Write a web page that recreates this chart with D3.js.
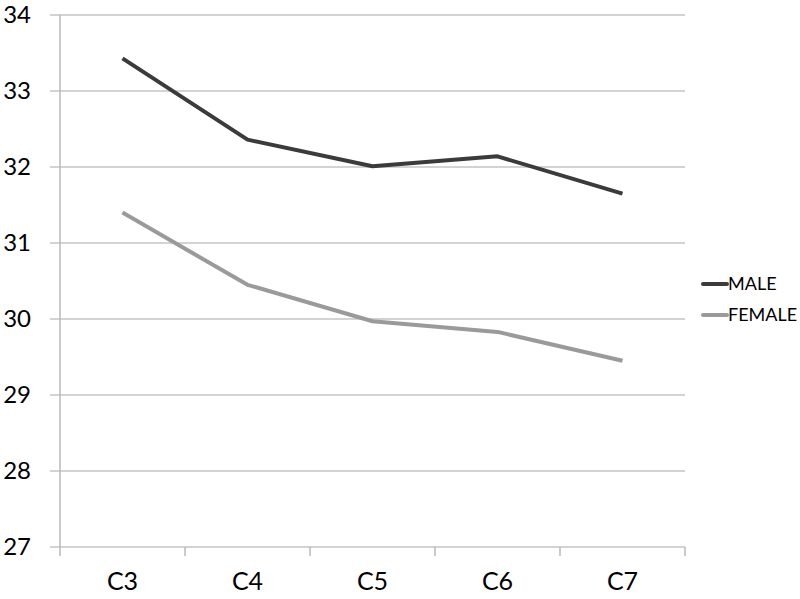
<!DOCTYPE html>
<html>
<head>
<meta charset="utf-8">
<script src="https://cdn.jsdelivr.net/npm/d3@7"></script>
<style>
  body { margin: 0; background: #fff; }
  svg { display: block; font-family: Lato, "Open Sans", sans-serif; }
</style>
</head>
<body>
<svg id="chart" width="800" height="599"></svg>
<script>
const categories = ["C3", "C4", "C5", "C6", "C7"];
const male = [33.43, 32.36, 32.01, 32.14, 31.65];
const female = [31.40, 30.45, 29.97, 29.83, 29.45];
const yTicks = [27, 28, 29, 30, 31, 32, 33, 34];

const series = [
  { name: "MALE", values: male, color: "#3b3b3b" },
  { name: "FEMALE", values: female, color: "#9a9a9a" }
];

const svg = d3.select("#chart");
const plotLeft = 60, plotRight = 685, plotTop = 15, plotBottom = 547;

const x = d3.scaleBand().domain(categories).range([plotLeft, plotRight]);
const y = d3.scaleLinear().domain([27, 34]).range([plotBottom, plotTop]);

// gridlines
svg.append("g")
  .selectAll("line")
  .data(yTicks)
  .join("line")
  .attr("x1", plotLeft - 10)
  .attr("x2", plotRight)
  .attr("y1", d => y(d))
  .attr("y2", d => y(d))
  .attr("stroke", "#c4c4c4")
  .attr("stroke-width", 1.5);

// y labels
svg.append("g")
  .selectAll("text")
  .data(yTicks)
  .join("text")
  .attr("x", 31)
  .attr("y", d => y(d))
  .attr("dy", "0.35em")
  .attr("text-anchor", "end")
  .attr("font-size", 24)
  .attr("fill", "#000")
  .text(d => d);

// y axis line
svg.append("line")
  .attr("x1", plotLeft).attr("x2", plotLeft)
  .attr("y1", plotTop).attr("y2", plotBottom + 9)
  .attr("stroke", "#b8b8b8")
  .attr("stroke-width", 1.5);

// x ticks between categories
const tickXs = categories.map(c => x(c) + x.bandwidth());
svg.append("g")
  .selectAll("line")
  .data(tickXs)
  .join("line")
  .attr("x1", d => d).attr("x2", d => d)
  .attr("y1", plotBottom).attr("y2", plotBottom + 9)
  .attr("stroke", "#b8b8b8")
  .attr("stroke-width", 1.5);

// x labels
svg.append("g")
  .selectAll("text")
  .data(categories)
  .join("text")
  .attr("x", d => x(d) + x.bandwidth() / 2)
  .attr("y", 581)
  .attr("dy", "0.35em")
  .attr("text-anchor", "middle")
  .attr("font-size", 25)
  .attr("fill", "#000")
  .text(d => d);

const line = d3.line()
  .x((d, i) => x(categories[i]) + x.bandwidth() / 2)
  .y(d => y(d));

svg.append("g")
  .selectAll("path")
  .data(series)
  .join("path")
  .attr("d", d => line(d.values))
  .attr("fill", "none")
  .attr("stroke", d => d.color)
  .attr("stroke-width", 4)
  .attr("stroke-linejoin", "round");

// legend
const legend = svg.append("g")
  .selectAll("g")
  .data(series)
  .join("g")
  .attr("transform", (d, i) => `translate(703, ${284 + i * 31})`);

legend.append("line")
  .attr("x1", 0).attr("x2", 24)
  .attr("stroke", d => d.color)
  .attr("stroke-width", 4)
  .attr("stroke-linecap", "round");

legend.append("text")
  .attr("x", 25)
  .attr("dy", "0.35em")
  .attr("font-size", 18)
  .attr("fill", "#000")
  .text(d => d.name);
</script>
</body>
</html>
